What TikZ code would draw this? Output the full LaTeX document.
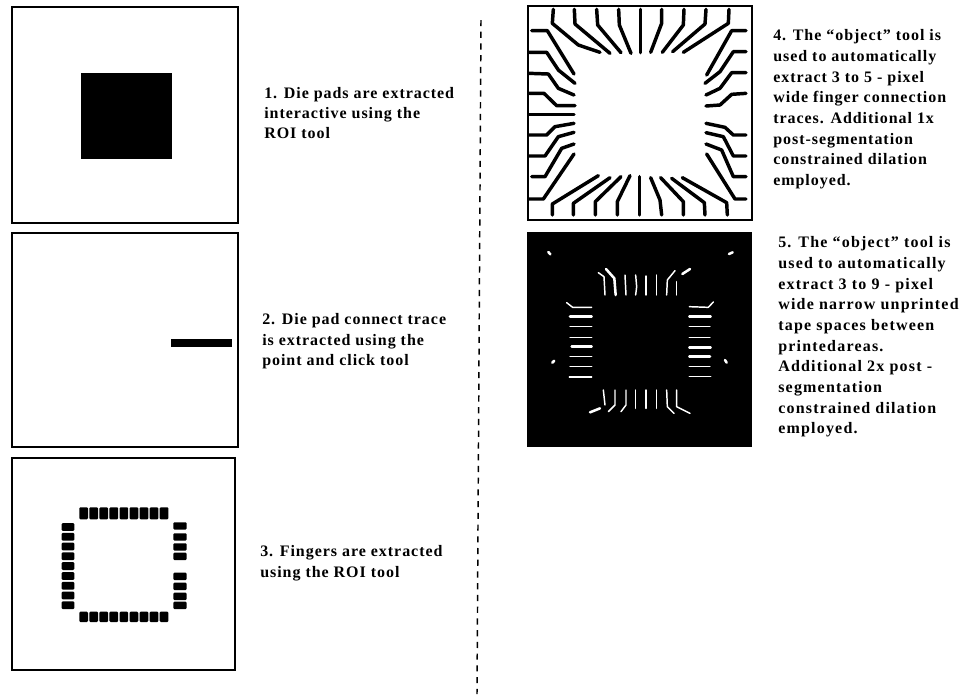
\documentclass[tikz,border=0pt]{standalone}
\usepackage{fontspec}
\setmainfont[LetterSpace=6]{Liberation Serif}
\newfontfamily\capwide[LetterSpace=7.5]{Liberation Serif}
\tikzset{
  panel/.style={draw=black,line width=0.8pt,fill=white},
  caption/.style={anchor=north west,align=left,inner sep=0pt,font=\bfseries\fontsize{12}{15.5}\selectfont},
  captionwide/.style={caption,font=\capwide\bfseries\fontsize{12}{15.5}\selectfont},
  trace/.style={line width=2.6pt,line join=round,line cap=round},
  gap/.style={white,line width=1.1pt,line cap=round,line join=round},
  gapthick/.style={white,line width=1.9pt,line cap=round,line join=round},
  pad/.style={fill=black,rounded corners=0.8pt}
}
\begin{document}
\begin{tikzpicture}[x=0.75pt,y=-0.75pt]
\useasboundingbox (0,0) rectangle (965,694);
\fill[white] (0,0) rectangle (965,694);
% left panels
\draw[panel] (12,7) rectangle (238,223);
\fill[black] (81,73) rectangle (172,159);
\draw[panel] (12,233) rectangle (238,447);
\fill[black] (171,339) rectangle (232,347);
\draw[panel] (12,458) rectangle (235,670);
% fingers
\foreach \i in {0,...,8} {
  \fill[pad] ({79.3+\i*10.05},507.3) rectangle ({88+\i*10.05},519.3);
  \fill[pad] ({79.3+\i*10.05},611.7) rectangle ({88+\i*10.05},622);
  \fill[pad] (61.7,{523+\i*9.8}) rectangle (74.3,{530.8+\i*9.8});
}
\foreach \y in {522.3,533.3,543.3,552.7,572.7,582.7,592.7,601.7} {
  \fill[pad] (173.3,\y) rectangle (186.7,{\y+7.3});
}
% divider
\coordinate (divtop) at (481,20);
\coordinate (divbot) at (477,694);
\draw[black,line width=1.1pt,dash pattern=on 4.6pt off 4.2pt] (divtop) -- (divbot);
% panel 4
\draw[panel] (528,6) rectangle (752,220);
\begin{scope}[shift={(520,0)},x=0.25pt,y=-0.25pt]
\foreach \p in {
 {(100,28)--(97,70)--(175,135)--(240,157)},
 {(163,28)--(165,72)--(270,160)},
 {(230,28)--(233,75)--(303,158)},
 {(296,28)--(298,75)--(333,160)},
 {(362,28)--(362,158)},
 {(425,28)--(425,70)--(392,157)},
 {(492,28)--(490,75)--(427,157)},
 {(558,28)--(555,72)--(458,155)},
 {(627,28)--(625,70)--(490,157)},
 {(97,645)--(97,612)--(235,527)},
 {(160,645)--(160,610)--(270,533)},
 {(226,645)--(226,605)--(303,530)},
 {(292,645)--(292,605)--(330,527)},
 {(358,645)--(358,530)},
 {(425,645)--(420,600)--(392,533)},
 {(490,645)--(490,605)--(422,533)},
 {(555,645)--(553,608)--(455,535)},
 {(622,645)--(620,608)--(487,533)},
 {(35,92)--(82,92)--(162,222)},
 {(28,157)--(80,157)--(115,210)--(165,250)},
 {(28,220)--(85,222)--(115,265)--(162,285)},
 {(28,280)--(72,280)--(110,317)--(165,317)},
 {(28,343)--(162,343)},
 {(28,405)--(80,405)--(105,380)--(162,370)},
 {(28,468)--(75,468)--(115,410)--(162,397)},
 {(35,530)--(75,530)--(125,445)--(162,432)},
 {(28,597)--(70,597)--(162,462)},
 {(678,92)--(635,92)--(560,225)},
 {(678,155)--(640,155)--(600,215)--(555,250)},
 {(678,218)--(635,218)--(600,265)--(558,285)},
 {(678,280)--(635,283)--(600,315)--(558,318)},
 {(678,405)--(640,405)--(615,382)--(558,370)},
 {(678,468)--(640,468)--(610,410)--(558,398)},
 {(678,530)--(640,530)--(605,450)--(558,432)},
 {(678,597)--(645,597)--(560,462)}
} { \draw[trace] \p; }
\end{scope}
% panel 5
\fill[black] (527,232) rectangle (752,447);
\begin{scope}[shift={(520,230)},x=0.25pt,y=-0.25pt]
\foreach \p in {
 {(140,218)--(158,232)--(215,232)},
 {(150,290)--(215,290)},
 {(150,322)--(215,322)},
 {(150,380)--(215,380)},
 {(150,410)--(215,410)},
 {(148,441)--(215,441)},
 {(508,230)--(565,232)--(580,216)},
 {(508,290)--(570,290)},
 {(508,322)--(570,322)},
 {(508,410)--(570,410)},
 {(508,440)--(572,440)},
 {(235,128)--(252,140)--(255,195)},
 {(315,135)--(318,195)},
 {(347,135)--(350,170)--(347,195)},
 {(378,138)--(378,195)},
 {(410,135)--(410,195)},
 {(465,122)--(442,150)--(440,195)},
 {(470,155)--(470,195)},
 {(250,480)--(255,525)},
 {(347,480)--(347,535)},
 {(378,480)--(378,535)},
 {(410,480)--(410,535)},
 {(440,480)--(442,530)--(462,550)},
 {(470,480)--(470,530)--(510,550)},
 {(285,480)--(285,525)--(265,545)},
 {(318,480)--(318,525)--(303,545)}
} { \draw[gap] \p; }
\foreach \p in {
 {(150,260)--(215,260)},
 {(155,350)--(215,350)},
 {(508,260)--(572,260)},
 {(508,352)--(572,352)},
 {(508,380)--(570,380)},
 {(258,117)--(283,145)--(287,195)},
 {(510,117)--(487,132)},
 {(210,547)--(240,535)},
 {(85,66)--(91,73)},
 {(627,72)--(638,67)},
 {(97,398)--(103,392)},
 {(615,390)--(620,398)}
} { \draw[gapthick] \p; }
\end{scope}
% captions
\node[caption] (c1) at (264,87) {1. Die pads are extracted\\[-0.5pt]interactive using the\\[-0.5pt]ROI tool};
\node[caption] (c2) at (262,313) {2. Die pad connect trace\\is extracted using the\\point and click tool};
\node[caption] (c3) at (260,545.5) {3. Fingers are extracted\\using the ROI tool};
\node[caption] (c4) at (773,29.5) {4. The “object” tool is\\used to automatically\\extract 3 to 5 - pixel\\wide finger connection\\traces. Additional 1x\\post-segmentation\\constrained dilation\\employed.};
\node[captionwide] (c5) at (778,236.5) {5. The “object” tool is\\used to automatically\\extract 3 to 9 - pixel\\wide narrow unprinted\\tape spaces between\\printedareas.\\Additional 2x post -\\segmentation\\constrained dilation\\employed.};
\end{tikzpicture}
\end{document}
